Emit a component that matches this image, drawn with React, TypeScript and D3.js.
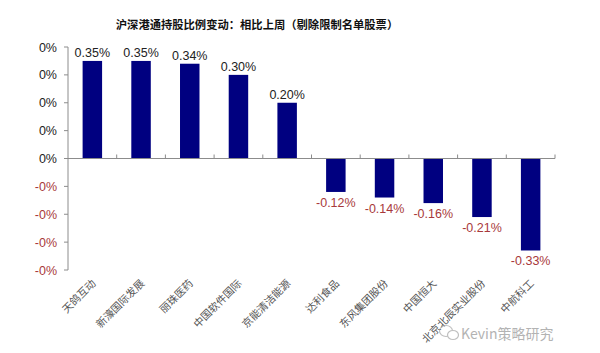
import React from "react";
import * as d3 from "d3";

const title = "沪深港通持股比例变动：相比上周（剔除限制名单股票）";
const categories = ["天鸽互动", "新濠国际发展", "丽珠医药", "中国软件国际", "京能清洁能源", "达利食品", "东风集团股份", "中国恒大", "北京北辰实业股份", "中航科工"];
const values = [0.35, 0.35, 0.34, 0.30, 0.20, -0.12, -0.14, -0.16, -0.21, -0.33];
const valueLabels = ["0.35%", "0.35%", "0.34%", "0.30%", "0.20%", "-0.12%", "-0.14%", "-0.16%", "-0.21%", "-0.33%"];
const yTicks = [0.4, 0.3, 0.2, 0.1, 0, -0.1, -0.2, -0.3, -0.4];
const yTickLabels = ["0%", "0%", "0%", "0%", "0%", "-0%", "-0%", "-0%", "-0%"];
const watermark = "Kevin策略研究";

const W = 600, H = 353;
const left = 68, right = 555, top = 47, bottom = 270;
const BAR = "#000080";
const RED = "#a8393a";
const AXIS = "#8c8c8c";
const latin = "Arial, 'Liberation Sans', sans-serif";
const cjk = "'Noto Sans CJK SC', sans-serif";

export default function App() {
  const x = d3.scaleBand<string>().domain(categories).range([left, right]).paddingInner(0.6).paddingOuter(0.3);
  const xb = d3.scaleBand<string>().domain(categories).range([left, right]);
  const y = d3.scaleLinear().domain([-0.4, 0.4]).range([bottom, top]);
  const y0 = y(0);
  return (
    <svg width={W} height={H} style={{ position: "absolute", left: 0, top: 0, background: "#fff" }}>
      <rect x={0} y={0} width={W} height={H} fill="#fff" />
      <text x={257} y={29} textAnchor="middle" fontFamily={cjk} fontWeight="bold" fontSize={11.3} fill="#111">{title}</text>
      {/* y axis */}
      <line x1={left} x2={left} y1={y(0.4)} y2={y(-0.4)} stroke={AXIS} strokeWidth={1} />
      {yTicks.map((t, i) => (
        <g key={i}>
          <line x1={left - 4} x2={left} y1={y(t)} y2={y(t)} stroke={AXIS} />
          <text x={57} y={y(t) + 4.5} textAnchor="end" fontFamily={latin} fontSize={12.5} fill={t < 0 ? RED : "#222"}>{yTickLabels[i]}</text>
        </g>
      ))}
      {/* bars */}
      {categories.map((c, i) => {
        const v = values[i];
        const yt = v >= 0 ? y(v) : y0;
        const h = Math.abs(y(v) - y0);
        return <rect key={c} x={x(c)} y={yt} width={x.bandwidth()} height={h} fill={BAR} />;
      })}
      {/* zero line */}
      <line x1={left} x2={right} y1={y0} y2={y0} stroke={AXIS} />
      {categories.map((c, i) => (
        <line key={"t" + i} x1={(xb(c) as number) + xb.bandwidth()} x2={(xb(c) as number) + xb.bandwidth()} y1={y0} y2={y0 - 4} stroke={AXIS} />
      ))}
      {/* value labels */}
      {categories.map((c, i) => {
        const v = values[i];
        const cx = (x(c) as number) + x.bandwidth() / 2;
        const ty = v >= 0 ? y(v) - 4 : y(v) + 15;
        return <text key={"v" + i} x={cx} y={ty} textAnchor="middle" fontFamily={latin} fontSize={12.5} fill={v >= 0 ? "#222" : RED}>{valueLabels[i]}</text>;
      })}
      {/* category labels */}
      {categories.map((c, i) => {
        const cx = (x(c) as number) + x.bandwidth() / 2 + 4;
        return (
          <text key={"c" + i} transform={`translate(${cx},${284}) rotate(-45)`} textAnchor="end" fontFamily={cjk} fontSize={10.5} fill="#555">{c}</text>
        );
      })}
      {/* watermark */}
      <g opacity={0.75}>
        <ellipse cx={446} cy={331} rx={6.5} ry={5.5} fill="none" stroke="#aaa" strokeWidth={1.2} />
        <ellipse cx={453} cy={335} rx={5.5} ry={4.5} fill="#fff" stroke="#aaa" strokeWidth={1.2} />
        <text x={461} y={339} fontFamily={cjk} fontSize={14} fill="#9a9a9a">{watermark}</text>
      </g>
    </svg>
  );
}
